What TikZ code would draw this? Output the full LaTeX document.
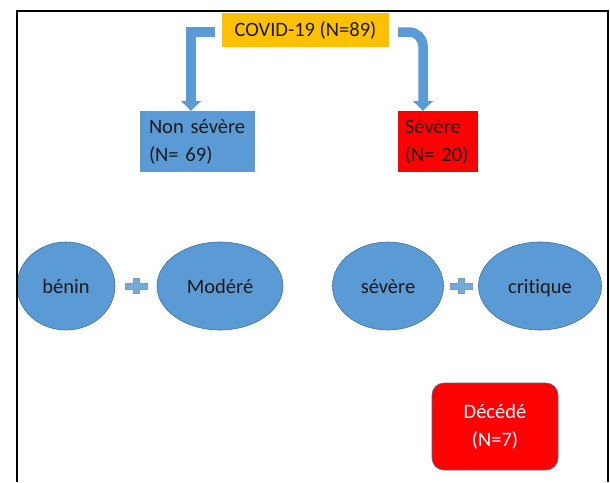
\documentclass[tikz,border=0pt]{standalone}
\usepackage{fontspec}
\setmainfont{Carlito}[Ligatures={TeX,NoCommon}]
\usetikzlibrary{shapes.geometric,arrows.meta,calc}

\definecolor{officeblue}{HTML}{5B9BD5}
\definecolor{blueedge}{HTML}{41719C}
\definecolor{covidgold}{HTML}{FFC000}
\definecolor{textdark}{HTML}{1A1A1A}

\tikzset{
  box/.style={rectangle, inner ysep=0pt, font=\fontsize{20.5}{28}\selectfont, text=textdark},
  stage/.style={ellipse, fill=officeblue, draw=blueedge, line width=0.6pt, inner sep=0pt,
    minimum height=88pt, text height=15pt, text depth=1pt, font=\fontsize{20.5}{28}\selectfont, text=textdark},
  bigarrow/.style={officeblue, line width=9.5pt, -{Triangle[width=20pt,length=10pt]}},
  plusmark/.style={fill=officeblue!85, draw=blueedge!70, line width=0.4pt},
}

\begin{document}
\begin{tikzpicture}[x=1pt,y=-1pt]
\useasboundingbox (0,0) rectangle (610,482);

%top box and the two groups
\node[box, fill=covidgold, inner xsep=0pt, minimum width=167pt, minimum height=34pt] (covid) at (305.5,30) {COVID-19 (N=89)};
\node[box, fill=officeblue, inner xsep=9pt, text width=97pt, minimum height=61pt, align=left] (nonsev) at (197.5,141.5) {Non sévère\\(N= 69)};
\node[box, fill=red, inner xsep=7pt, text width=66pt, minimum height=61pt, align=left] (sev) at (438,141.5) {Sévère\\(N=~20)};

%block arrows from the top box
\draw[bigarrow] ([shift={(-7,2)}]covid.west) -| ([xshift=-6.5pt]nonsev.north);
\draw[bigarrow, rounded corners=14pt] ([shift={(9,2)}]covid.east) -| ([xshift=-15pt]sev.north);

%forms of the disease
\node[stage, minimum width=98pt] (benin) at (66,286) {bénin};
\node[stage, minimum width=126pt] (modere) at (220,286) {Modéré};
\node[stage, minimum width=111pt] (severe) at (388,286) {sévère};
\node[stage, minimum width=123pt] (critique) at (540,286) {critique};

\coordinate (plusA) at ($(benin.east)!0.5!(modere.west)$);
\coordinate (plusB) at ($(severe.east)!0.5!(critique.west)$);
\foreach \p in {plusA,plusB}
  \draw[plusmark] ($(\p)+(-11,-3)$) -- ++(8,0) -- ++(0,-4.5) -- ++(6,0) -- ++(0,4.5) -- ++(8,0)
    -- ++(0,6) -- ++(-8,0) -- ++(0,4.5) -- ++(-6,0) -- ++(0,-4.5) -- ++(-8,0) -- cycle;

%deaths
\node[box, fill=red, draw=blueedge, line width=0.6pt, rounded corners=12pt, minimum width=126pt,
  minimum height=87pt, align=center, text=white] (deces) at (495,426.5) {Décédé\\(N=7)};

%frame
\draw[line width=2.2pt] (17,482) -- (17,11) -- (608,11) -- (608,482);
\end{tikzpicture}
\end{document}
